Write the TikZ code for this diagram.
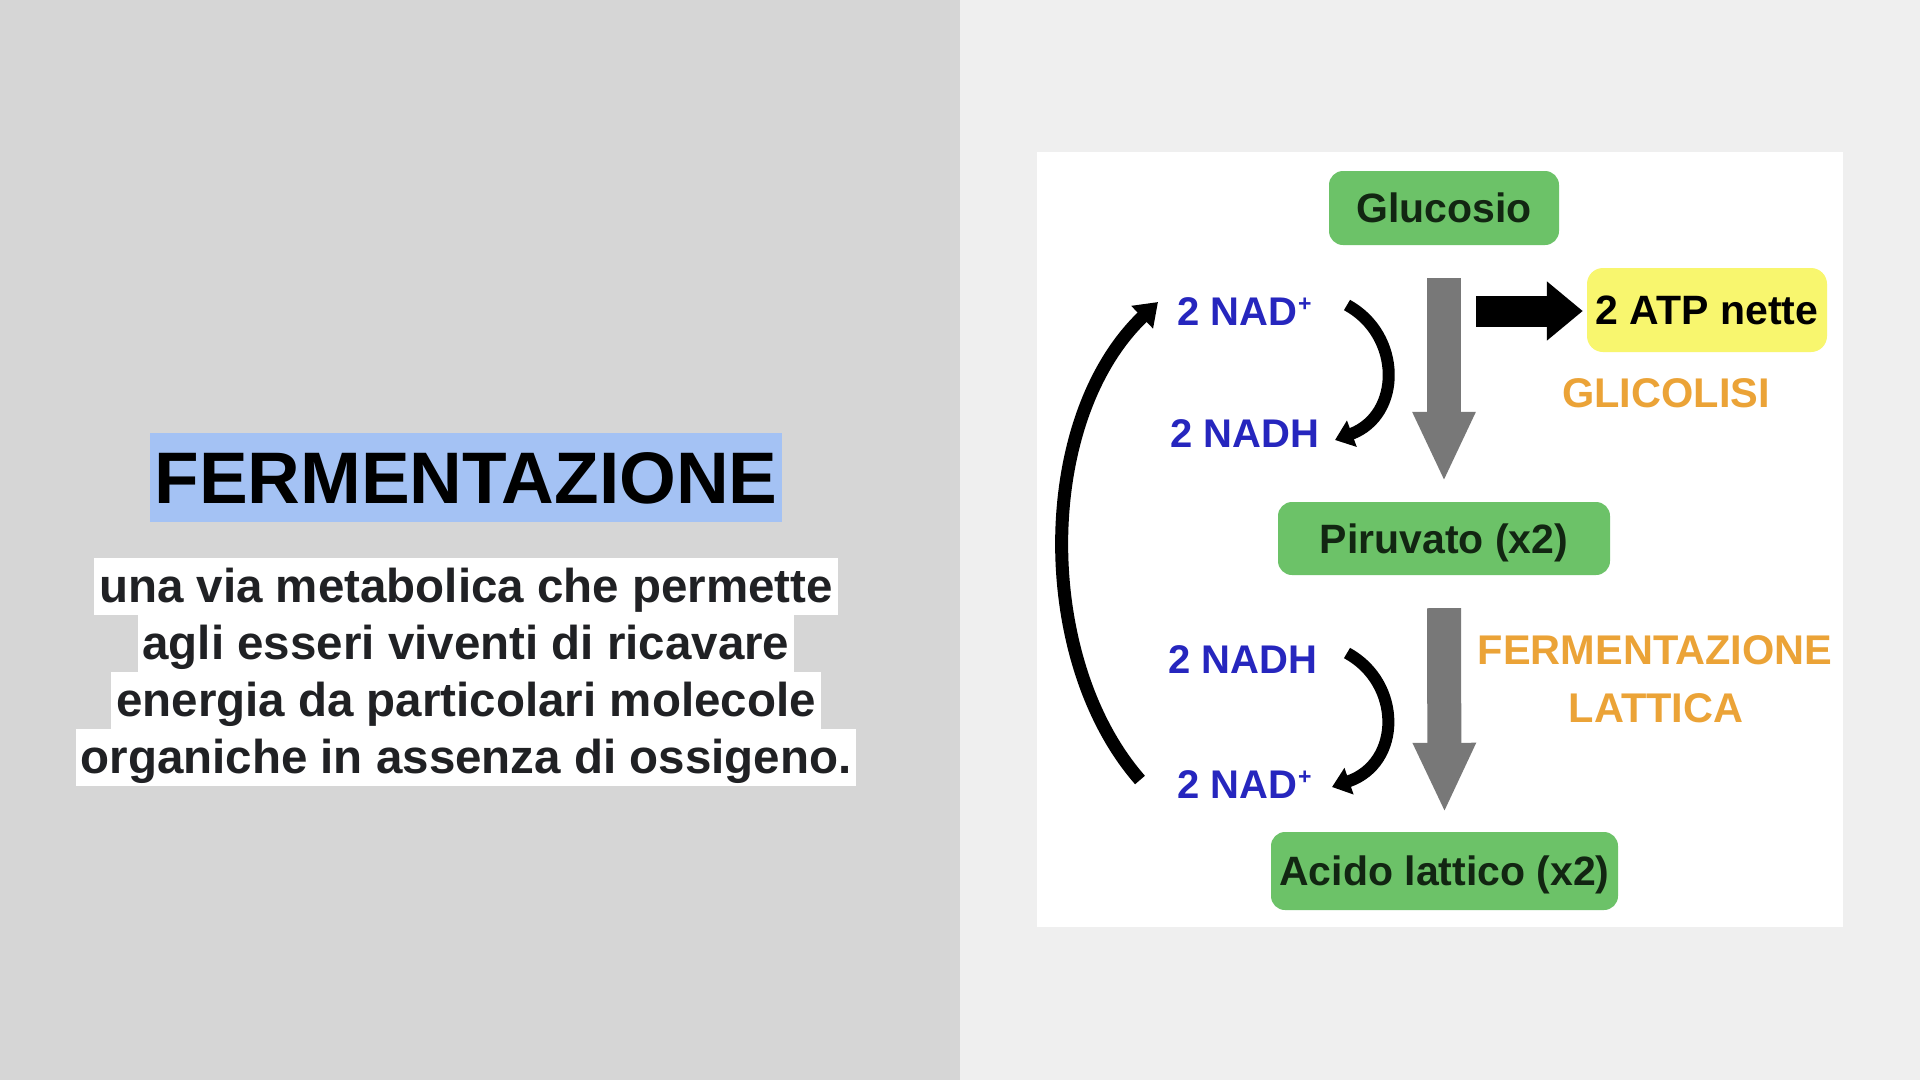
\documentclass[tikz,border=0pt]{standalone}
\usepackage{fontspec}
\setmainfont{Liberation Sans}
\usetikzlibrary{arrows.meta,calc}

\definecolor{leftbg}{RGB}{214,214,214}
\definecolor{rightbg}{RGB}{239,239,239}
\definecolor{hlblue}{RGB}{164,194,244}
\definecolor{boxgreen}{RGB}{108,194,104}
\definecolor{greentext}{RGB}{18,38,18}
\definecolor{atpyellow}{RGB}{248,246,110}
\definecolor{nadblue}{RGB}{38,38,190}
\definecolor{labelorange}{RGB}{235,163,55}
\definecolor{arrowgray}{RGB}{120,120,120}
\definecolor{bodytext}{RGB}{32,33,36}

\tikzset{
  titlebox/.style={fill=hlblue, anchor=base, inner xsep=4pt, inner ysep=0pt,
    text height=70pt, text depth=19pt, text=black,
    font=\bfseries\fontsize{73}{80}\selectfont},
  bodyline/.style={fill=white, anchor=base, inner xsep=5pt, inner ysep=0pt,
    text height=44pt, text depth=13pt, text=bodytext,
    font=\bfseries\fontsize{47.5}{57}\selectfont},
  greenbox/.style={fill=boxgreen, rounded corners=14pt, inner sep=0pt,
    text height=29.5pt, text depth=0pt, text=greentext,
    font=\bfseries\fontsize{41}{48}\selectfont},
  atpbox/.style={fill=atpyellow, rounded corners=16pt, inner sep=0pt,
    text height=29.5pt, text depth=0pt, text=black,
    font=\bfseries\fontsize{41}{48}\selectfont},
  nadlbl/.style={inner sep=0pt, anchor=base west, text=nadblue,
    font=\bfseries\fontsize{40}{48}\selectfont},
  orangelbl/.style={inner sep=0pt, text=labelorange,
    font=\bfseries\fontsize{41.5}{48}\selectfont},
  grayarrow/.style={draw=arrowgray, line width=34pt, line cap=butt,
    -{Triangle[width=58pt,length=70pt]}},
  blackarrow/.style={draw=black, line width=31pt, line cap=butt,
    -{Triangle[width=57pt,length=36pt]}},
  cyclecurve/.style={draw=black, line width=12pt, line cap=butt,
    -{Triangle[width=27pt,length=18pt]}},
  bigcurve/.style={draw=black, line width=13pt, line cap=butt,
    -{Triangle[width=30pt,length=22pt]}},
}

\newcommand{\plussup}{\kern1pt\raisebox{14pt}{\fontsize{23}{23}\selectfont +}}

\begin{document}
\begin{tikzpicture}[x=1pt,y=-1pt]
\useasboundingbox (0,0) rectangle (1920,1080);
% backgrounds
\fill[leftbg] (0,0) rectangle (960,1080);
\fill[rightbg] (960,0) rectangle (1920,1080);
\fill[white] (1037,152) rectangle (1843,927);

% left text
\node[titlebox] (title) at (466,503) {FERMENTAZIONE};
\node[bodyline] (l1) at (466,602) {una via metabolica che permette};
\node[bodyline] (l2) at (466,659) {agli esseri viventi di ricavare};
\node[bodyline] (l3) at (466,716) {energia da particolari molecole};
\node[bodyline] (l4) at (466,773) {organiche in assenza di ossigeno.};

% diagram boxes
\node[greenbox, minimum width=230pt, minimum height=74pt] (glu) at (1444,208) {Glucosio};
\node[greenbox, minimum width=332pt, minimum height=73pt] (piru) at (1444,538.5) {Piruvato (x2)};
\node[greenbox, minimum width=347pt, minimum height=78pt] (acido) at (1444.5,871) {Acido lattico (x2)};
\node[atpbox, minimum width=240pt, minimum height=84pt] (atp) at (1707,310) {2 ATP nette};

% labels
\node[nadlbl] (nadA) at (1177,325) {2 NAD\plussup};
\node[nadlbl] (nadhA) at (1170,447) {2 NADH};
\node[nadlbl] (nadhB) at (1168,673) {2 NADH};
\node[nadlbl] (nadB) at (1177,798) {2 NAD\plussup};
\node[orangelbl, anchor=base west] (glic) at (1562,407) {GLICOLISI};
\node[orangelbl, anchor=base] (ferm) at (1655,664) {FERMENTAZIONE};
\node[orangelbl, anchor=base] (latt) at (1656,722) {LATTICA};

% gray process arrows
\draw[grayarrow] ($(glu.south)+(0,33)$) -- ($(piru.north)+(0,-20)$);
\draw[grayarrow] ($(piru.south)+(0,33)$) -- ($(acido.north)+(0,-19)$);

% black arrow to ATP
\coordinate (atpstart) at (1476,311);
\draw[blackarrow, shorten >=4pt] (atpstart) -- (atp.west |- atpstart);

% small cycle curves
\coordinate (c1s) at (1347,305);
\coordinate (c1e) at (1335,440);
\draw[cyclecurve] (c1s) .. controls (1402,335) and (1402,415) .. (c1e);
\coordinate (c2s) at (1347,653);
\coordinate (c2e) at (1332,787);
\draw[cyclecurve] (c2s) .. controls (1402,683) and (1402,763) .. (c2e);

% big regeneration curve
\coordinate (bigs) at (1140,780);
\coordinate (bige) at (1158,302);
\draw[bigcurve] (bigs) .. controls (1035,660) and (1035,420) .. (bige);
\end{tikzpicture}
\end{document}
